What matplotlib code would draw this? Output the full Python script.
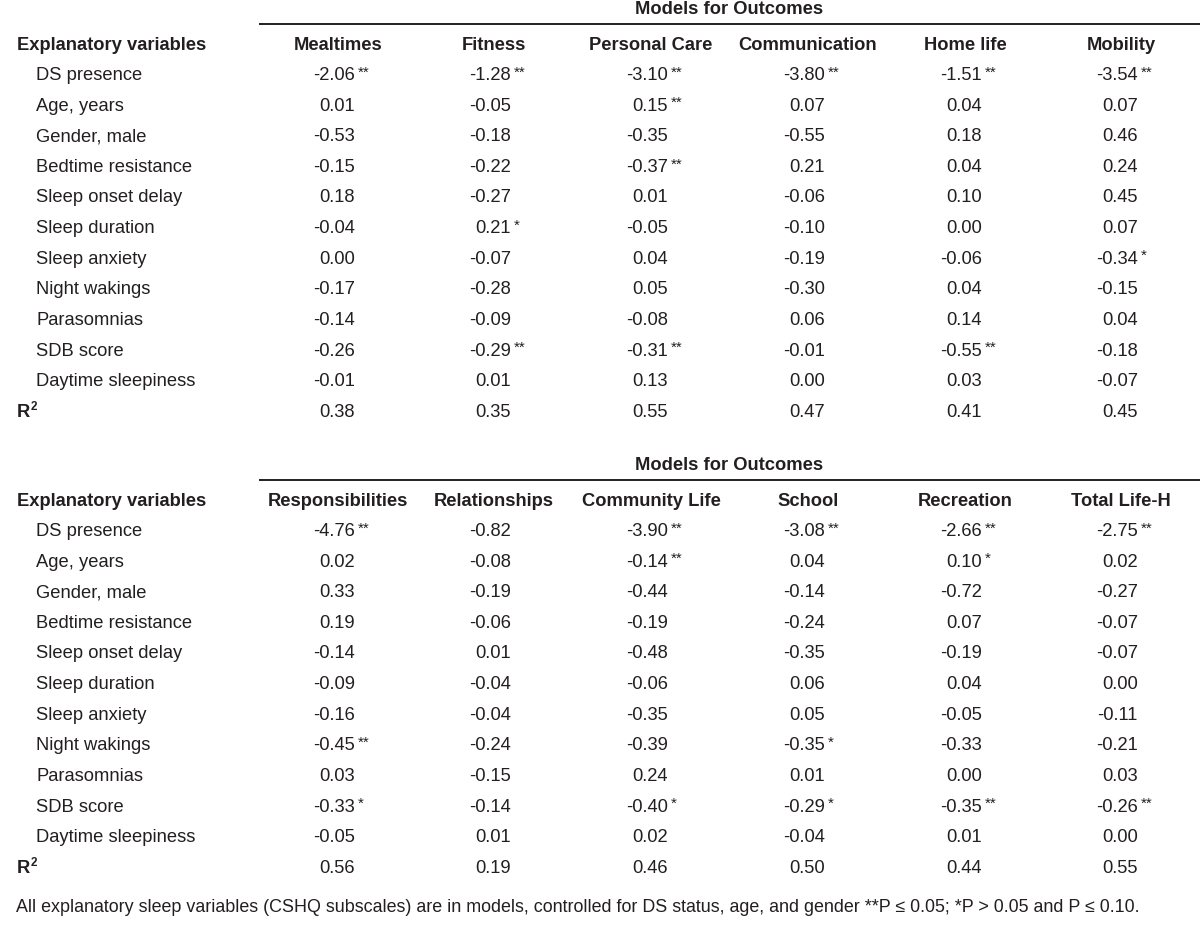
import numpy as np
import matplotlib
matplotlib.use("Agg")
import matplotlib.pyplot as plt

plt.rcParams['font.family'] = ['Liberation Sans Narrow', 'Liberation Sans', 'DejaVu Sans']

# ---- table data ----
row_labels = ["DS presence", "Age, years", "Gender, male", "Bedtime resistance",
              "Sleep onset delay", "Sleep duration", "Sleep anxiety", "Night wakings",
              "Parasomnias", "SDB score", "Daytime sleepiness"]

cols_top = ["Mealtimes", "Fitness", "Personal Care", "Communication", "Home life", "Mobility"]
vals_top = np.array([
    [-2.06, -1.28, -3.10, -3.80, -1.51, -3.54],
    [0.01, -0.05, 0.15, 0.07, 0.04, 0.07],
    [-0.53, -0.18, -0.35, -0.55, 0.18, 0.46],
    [-0.15, -0.22, -0.37, 0.21, 0.04, 0.24],
    [0.18, -0.27, 0.01, -0.06, 0.10, 0.45],
    [-0.04, 0.21, -0.05, -0.10, 0.00, 0.07],
    [0.00, -0.07, 0.04, -0.19, -0.06, -0.34],
    [-0.17, -0.28, 0.05, -0.30, 0.04, -0.15],
    [-0.14, -0.09, -0.08, 0.06, 0.14, 0.04],
    [-0.26, -0.29, -0.31, -0.01, -0.55, -0.18],
    [-0.01, 0.01, 0.13, 0.00, 0.03, -0.07],
])
stars_top = np.array([
    [2, 2, 2, 2, 2, 2],
    [0, 0, 2, 0, 0, 0],
    [0, 0, 0, 0, 0, 0],
    [0, 0, 2, 0, 0, 0],
    [0, 0, 0, 0, 0, 0],
    [0, 1, 0, 0, 0, 0],
    [0, 0, 0, 0, 0, 1],
    [0, 0, 0, 0, 0, 0],
    [0, 0, 0, 0, 0, 0],
    [0, 2, 2, 0, 2, 0],
    [0, 0, 0, 0, 0, 0],
])
r2_top = [0.38, 0.35, 0.55, 0.47, 0.41, 0.45]

cols_bot = ["Responsibilities", "Relationships", "Community Life", "School", "Recreation", "Total Life-H"]
vals_bot = np.array([
    [-4.76, -0.82, -3.90, -3.08, -2.66, -2.75],
    [0.02, -0.08, -0.14, 0.04, 0.10, 0.02],
    [0.33, -0.19, -0.44, -0.14, -0.72, -0.27],
    [0.19, -0.06, -0.19, -0.24, 0.07, -0.07],
    [-0.14, 0.01, -0.48, -0.35, -0.19, -0.07],
    [-0.09, -0.04, -0.06, 0.06, 0.04, 0.00],
    [-0.16, -0.04, -0.35, 0.05, -0.05, -0.11],
    [-0.45, -0.24, -0.39, -0.35, -0.33, -0.21],
    [0.03, -0.15, 0.24, 0.01, 0.00, 0.03],
    [-0.33, -0.14, -0.40, -0.29, -0.35, -0.26],
    [-0.05, 0.01, 0.02, -0.04, 0.01, 0.00],
])
stars_bot = np.array([
    [2, 0, 2, 2, 2, 2],
    [0, 0, 2, 0, 1, 0],
    [0, 0, 0, 0, 0, 0],
    [0, 0, 0, 0, 0, 0],
    [0, 0, 0, 0, 0, 0],
    [0, 0, 0, 0, 0, 0],
    [0, 0, 0, 0, 0, 0],
    [2, 0, 0, 1, 0, 0],
    [0, 0, 0, 0, 0, 0],
    [1, 0, 1, 1, 2, 2],
    [0, 0, 0, 0, 0, 0],
])
r2_bot = [0.56, 0.19, 0.46, 0.50, 0.44, 0.55]

footnote = ("All explanatory sleep variables (CSHQ subscales) are in models, controlled for "
            "DS status, age, and gender **P \u2264 0.05; *P > 0.05 and P \u2264 0.10.")

# ---- layout ----
ink = "#231f20"
fs = 13.2
col_center = np.array([338, 494, 651, 808, 965, 1121])
num_right = col_center + 17
row_step = 30.6

fig = plt.figure(figsize=(12, 9.44), dpi=100)
ax = fig.add_axes([0, 0, 1, 1])
ax.set_xlim(0, 1200)
ax.set_ylim(944, 0)
ax.axis("off")


def draw_block(y0, cols, vals, stars, r2):
    ax.text(729, y0, "Models for Outcomes", ha="center", va="center",
            fontsize=fs, fontweight="bold", color=ink)
    ax.plot([260, 1200], [y0 + 15, y0 + 15], color=ink, lw=1.4)
    yh = y0 + 36
    ax.text(17, yh, "Explanatory variables", ha="left", va="center",
            fontsize=fs, fontweight="bold", color=ink)
    for j, c in enumerate(cols):
        ax.text(col_center[j], yh, c, ha="center", va="center",
                fontsize=fs, fontweight="bold", color=ink)
    for i, lab in enumerate(row_labels):
        y = yh + row_step * (i + 1)
        ax.text(36, y, lab, ha="left", va="center", fontsize=fs, color=ink)
        for j in range(len(cols)):
            ax.text(num_right[j], y, f"{vals[i, j]:.2f}", ha="right", va="center",
                    fontsize=fs, color=ink)
            if stars[i, j]:
                ax.text(num_right[j] + 3, y - 3, "*" * stars[i, j], ha="left",
                        va="center", fontsize=11, color=ink)
    y = yh + row_step * (len(row_labels) + 1)
    ax.text(17, y, "R", ha="left", va="center", fontsize=fs,
            fontweight="bold", color=ink)
    ax.text(31, y - 5, "2", ha="left", va="center", fontsize=8.5,
            fontweight="bold", color=ink)
    for j in range(len(cols)):
        ax.text(num_right[j], y, f"{r2[j]:.2f}", ha="right", va="center",
                fontsize=fs, color=ink)


draw_block(9, cols_top, vals_top, stars_top, r2_top)
draw_block(465, cols_bot, vals_bot, stars_bot, r2_bot)

ax.text(16, 907, footnote, ha="left", va="center", fontsize=12.85, color=ink)

fig.savefig("out.png", dpi=100)
